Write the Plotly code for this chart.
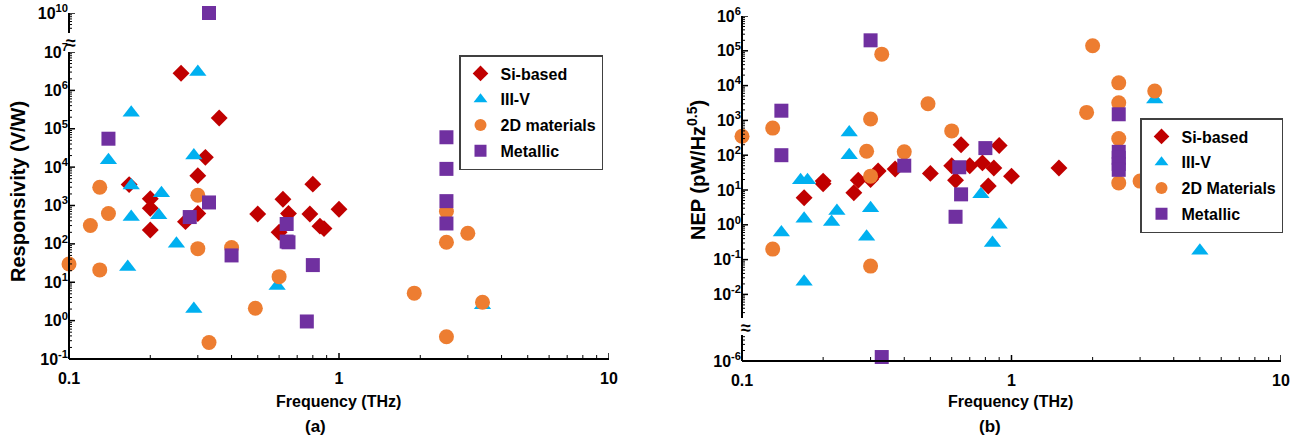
import math
import plotly.graph_objects as go

# ---------------- Panel (a): Responsivity (V/W) ----------------
a_si_f = [0.167, 0.2, 0.2, 0.2, 0.26, 0.27, 0.30, 0.30, 0.32, 0.36, 0.5, 0.6, 0.62, 0.65, 0.78, 0.8, 0.85, 0.88, 1.0]
a_si_r = [3500, 1500, 850, 230, 2.8e6, 380, 6000, 620, 1.8e4, 1.9e5, 600, 200, 1450, 620, 600, 3600, 290, 250, 800]

a_iii_f = [0.14, 0.165, 0.17, 0.17, 0.17, 0.215, 0.22, 0.25, 0.29, 0.29, 0.30, 0.59, 3.4]
a_iii_r = [1.5e4, 25, 2.6e5, 3300, 500, 560, 2100, 100, 2e4, 2, 3e6, 8, 2.5]

a_2d_f = [0.1, 0.12, 0.13, 0.13, 0.14, 0.30, 0.30, 0.33, 0.40, 0.49, 0.6, 1.9, 2.5, 2.5, 2.5, 3.0, 3.4]
a_2d_r = [30, 300, 21, 3000, 620, 1850, 75, 0.27, 80, 2.1, 14, 5.2, 700, 110, 0.38, 190, 3]

a_met_f = [0.14, 0.28, 0.33, 0.33, 0.40, 0.64, 0.64, 0.65, 0.76, 0.8, 2.5, 2.5, 2.5, 2.5]
a_met_r = [5.5e4, 500, 1e10, 1200, 50, 330, 115, 110, 0.95, 28, 6e4, 9000, 1300, 340]

# ---------------- Panel (b): NEP (pW/Hz^0.5) ----------------
b_si_f = [0.17, 0.2, 0.2, 0.26, 0.27, 0.30, 0.32, 0.37, 0.5, 0.6, 0.62, 0.65, 0.7, 0.78, 0.82, 0.86, 0.9, 1.0, 1.5]
b_si_n = [6, 18, 15, 8.3, 19, 20, 35, 40, 30, 50, 19, 200, 50, 60, 13, 43, 190, 25, 43]

b_iii_f = [0.14, 0.165, 0.175, 0.17, 0.17, 0.215, 0.225, 0.25, 0.25, 0.29, 0.30, 0.77, 0.85, 0.9, 3.4, 5.0]
b_iii_n = [0.6, 19, 19, 1.5, 0.023, 1.2, 2.5, 450, 100, 0.45, 3, 7.5, 0.3, 1.0, 4000, 0.18]

b_2d_f = [0.1, 0.13, 0.13, 0.29, 0.30, 0.30, 0.30, 0.33, 0.40, 0.49, 0.6, 1.9, 2.0, 2.5, 2.5, 2.5, 2.5, 3.0, 3.4]
b_2d_n = [350, 600, 0.2, 130, 1100, 25, 0.065, 8e4, 125, 3000, 500, 1700, 1.4e5, 1.2e4, 3200, 300, 16, 18, 7000]

b_met_f = [0.14, 0.14, 0.30, 0.33, 0.40, 0.62, 0.64, 0.65, 0.8, 2.5, 2.5, 2.5, 2.5, 2.5]
b_met_n = [1900, 100, 2e5, 1.3e-6, 50, 1.7, 45, 7.5, 160, 1500, 125, 84, 56, 38]

series_names_a = ["Si-based", "III-V", "2D materials", "Metallic"]
series_names_b = ["Si-based", "III-V", "2D Materials", "Metallic"]
colors = ["#C00000", "#00B0F0", "#ED7D31", "#7030A0"]
symbols = ["diamond", "triangle-up", "circle", "square"]
sizes = [13, 15, 15, 14]

A_BREAK = 1e8     # values above go to the upper (broken) segment of panel (a)
B_BREAK = 1e-4    # values below go to the lower (broken) segment of panel (b)

FONT = "Arial"
W, H = 1302, 441

fig = go.Figure()

a_data = [(a_si_f, a_si_r), (a_iii_f, a_iii_r), (a_2d_f, a_2d_r), (a_met_f, a_met_r)]
b_data = [(b_si_f, b_si_n), (b_iii_f, b_iii_n), (b_2d_f, b_2d_n), (b_met_f, b_met_n)]

for i, (fx, fy) in enumerate(a_data):
    main = [(x, y) for x, y in zip(fx, fy) if y < A_BREAK]
    high = [(x, y) for x, y in zip(fx, fy) if y >= A_BREAK]
    mk = dict(symbol=symbols[i], color=colors[i], size=sizes[i], line=dict(width=0))
    fig.add_trace(go.Scatter(x=[p[0] for p in main], y=[p[1] for p in main], mode="markers",
                             marker=mk, name="<b>%s</b>" % series_names_a[i], legend="legend",
                             legendgroup="a%d" % i, xaxis="x", yaxis="y", cliponaxis=False))
    if high:
        fig.add_trace(go.Scatter(x=[p[0] for p in high], y=[p[1] for p in high], mode="markers",
                                 marker=mk, showlegend=False, legendgroup="a%d" % i,
                                 xaxis="x", yaxis="y2", cliponaxis=False))

for i, (fx, fy) in enumerate(b_data):
    main = [(x, y) for x, y in zip(fx, fy) if y > B_BREAK]
    low = [(x, y) for x, y in zip(fx, fy) if y <= B_BREAK]
    mk = dict(symbol=symbols[i], color=colors[i], size=sizes[i], line=dict(width=0))
    fig.add_trace(go.Scatter(x=[p[0] for p in main], y=[p[1] for p in main], mode="markers",
                             marker=mk, name="<b>%s</b>" % series_names_b[i], legend="legend2",
                             legendgroup="b%d" % i, xaxis="x2", yaxis="y3", cliponaxis=False))
    if low:
        fig.add_trace(go.Scatter(x=[p[0] for p in low], y=[p[1] for p in low], mode="markers",
                                 marker=mk, showlegend=False, legendgroup="b%d" % i,
                                 xaxis="x2", yaxis="y4", cliponaxis=False))


def sup_lbl(n):
    return "<b>10<sup>%d</sup></b>" % n


def minor_vals(rng):
    """Minor tick values (2..9 x 10^n) lying inside a log-axis range given in decades."""
    out = []
    for n in range(int(math.floor(rng[0])) - 1, int(math.ceil(rng[1])) + 1):
        for k in range(2, 10):
            v = k * 10.0 ** n
            if rng[0] <= math.log10(v) <= rng[1]:
                out.append(v)
    return out


tickfont = dict(family=FONT, size=16, color="black")


def yax(domain, rng, majors, anchor):
    return dict(type="log", domain=domain, range=rng, anchor=anchor, automargin=False,
                tickmode="array", tickvals=[10.0 ** n for n in majors],
                ticktext=[sup_lbl(n) for n in majors], ticks="",
                showline=False, showgrid=False, zeroline=False, tickfont=tickfont)


def xax(domain, anchor):
    return dict(type="log", domain=domain, range=[-1, 1], anchor=anchor, automargin=False,
                tickmode="array", tickvals=[0.1, 1, 10], ticktext=["<b>0.1</b>", "<b>1</b>", "<b>10</b>"],
                ticks="", showline=False, showgrid=False, zeroline=False, tickfont=tickfont,
                ticklabelstandoff=8)


def py(p):
    return 1 - p / H


ya_main = [-1, 7]
ya_high = [10 - 20 / 38.4, 10]
yb_main = [6 - 302 / 34.8, 6]
yb_low = [-6, -6 + 26 / 34.8]

xa_dom = [69 / W, 609 / W]
xb_dom = [742 / W, 1281 / W]
dom_ya_main = [py(359), py(52)]
dom_ya_high = [py(33), py(13)]
dom_yb_main = [py(318), py(16)]
dom_yb_low = [py(361), py(335)]

legend_common = dict(xanchor="right", yanchor="top", bgcolor="white", bordercolor="#404040",
                     borderwidth=1.5, font=dict(family=FONT, size=16, color="black"),
                     itemwidth=30, tracegroupgap=2, itemsizing="constant")

fig.update_layout(
    template="none",
    width=W, height=H, margin=dict(l=0, r=0, t=0, b=0),
    paper_bgcolor="white", plot_bgcolor="rgba(0,0,0,0)",
    font=dict(family=FONT, color="black"),
    xaxis=xax(xa_dom, "y"),
    yaxis=yax(dom_ya_main, ya_main, list(range(-1, 8)), "x"),
    yaxis2=yax(dom_ya_high, ya_high, [10], "x"),
    xaxis2=xax(xb_dom, "y4"),
    yaxis3=yax(dom_yb_main, yb_main, list(range(-2, 7)), "x2"),
    yaxis4=yax(dom_yb_low, yb_low, [-6], "x2"),
    legend=dict(x=603 / W, y=py(55), **legend_common),
    legend2=dict(x=1283 / W, y=py(118), **legend_common),
    showlegend=True,
)

# ---- axis lines (paper coords at the axis domains) and tick marks (at axis values) ----
shapes = []


def seg(xref, yref, x0, y0, x1, y1, w):
    shapes.append(dict(type="line", xref=xref, yref=yref, x0=x0, y0=y0, x1=x1, y1=y1,
                       line=dict(color="black", width=w), layer="above"))


def draw_y(yname, rng, majors, dom, xdom):
    seg("paper", "paper", xdom[0], dom[0], xdom[0], dom[1], 2)
    for n in majors:
        v = 10.0 ** n
        seg("paper", yname, xdom[0], v, xdom[0] + 6 / W, v, 1.5)
    for v in minor_vals(rng):
        seg("paper", yname, xdom[0], v, xdom[0] + 3 / W, v, 1)


def draw_x(xname, xdom, ydom):
    seg("paper", "paper", xdom[0], ydom[0], xdom[1], ydom[0], 2)
    for v in [0.1, 1, 10]:
        seg(xname, "paper", v, ydom[0], v, ydom[0] + 6 / H, 1.5)
    for v in minor_vals([-1, 1]):
        seg(xname, "paper", v, ydom[0], v, ydom[0] + 4 / H, 1)


draw_y("y", ya_main, list(range(-1, 8)), dom_ya_main, xa_dom)
draw_y("y2", ya_high, [10], dom_ya_high, xa_dom)
draw_y("y3", yb_main, list(range(-2, 7)), dom_yb_main, xb_dom)
draw_y("y4", yb_low, [-6], dom_yb_low, xb_dom)
draw_x("x", xa_dom, dom_ya_main)
draw_x("x2", xb_dom, dom_yb_low)
fig.update_layout(shapes=shapes)

annotations = [
    dict(text="<b>Frequency (THz)</b>", x=338 / W, y=py(401), size=16),
    dict(text="<b>Frequency (THz)</b>", x=1010 / W, y=py(401), size=16),
    dict(text="<b>(a)</b>", x=315 / W, y=py(426), size=17),
    dict(text="<b>(b)</b>", x=990 / W, y=py(426), size=17),
    dict(text="<b>Responsivity (V/W)</b>", x=18 / W, y=py(192), size=20, angle=-90),
    dict(text="<b>NEP (pW/Hz<sup>0.5</sup>)</b>", x=696 / W, y=py(170), size=20, angle=-90),
    dict(text="<b>≈</b>", x=71 / W, y=py(43), size=18),
    dict(text="<b>≈</b>", x=746 / W, y=py(328), size=18),
]
anns = []
for a in annotations:
    anns.append(dict(text=a["text"], x=a["x"], y=a["y"], xref="paper", yref="paper", showarrow=False,
                     xanchor="center", yanchor="middle", textangle=a.get("angle", 0),
                     font=dict(family=FONT, size=a["size"], color="black")))
fig.update_layout(annotations=anns)

fig.write_html("out.html")
